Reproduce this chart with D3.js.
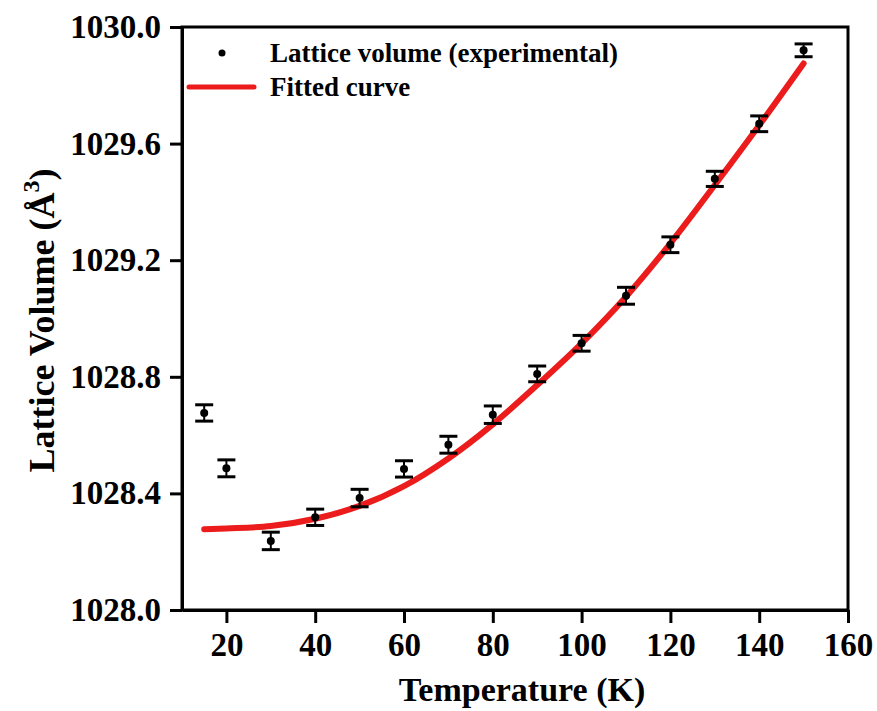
<!DOCTYPE html>
<html>
<head>
<meta charset="utf-8">
<script src="https://cdn.jsdelivr.net/npm/d3@7"></script>
<style>
  body { margin: 0; background: #fff; }
  text { font-family: "Liberation Serif", "Times New Roman", serif; font-weight: bold; }
</style>
</head>
<body>
<svg id="chart" width="877" height="711"></svg>
<script>
// measured points (K, A^3) with error bars
const temps = [15, 20, 30, 40, 50, 60, 70, 80, 90, 100, 110, 120, 130, 140, 150];
const volumes = [1028.676, 1028.486, 1028.237, 1028.318, 1028.384, 1028.484, 1028.567,
  1028.670, 1028.810, 1028.915, 1029.078, 1029.253, 1029.479, 1029.668, 1029.920];
const errors = [0.028, 0.029, 0.030, 0.028, 0.030, 0.028, 0.029, 0.030, 0.027, 0.027,
  0.029, 0.027, 0.026, 0.027, 0.022];

// fitted curve
const fitTemps = [15, 20, 30, 40, 50, 60, 70, 80, 90, 100, 110, 120, 130, 140, 150];
const fitVolumes = [1028.277, 1028.280, 1028.288, 1028.313, 1028.357, 1028.425, 1028.520,
  1028.637, 1028.772, 1028.915, 1029.075, 1029.258, 1029.458, 1029.663, 1029.875];

const xTicks = [20, 40, 60, 80, 100, 120, 140, 160];
const yTicks = [1028.0, 1028.4, 1028.8, 1029.2, 1029.6, 1030.0];

const margin = { top: 27, right: 29, bottom: 101, left: 182 };
const width = 877 - margin.left - margin.right;
const height = 711 - margin.top - margin.bottom;
const red = '#ec1c1c';

const svg = d3.select('#chart');
const g = svg.append('g')
  .attr('transform', `translate(${margin.left},${margin.top})`);

const x = d3.scaleLinear().domain([10, 160]).range([0, width]);
const y = d3.scaleLinear().domain([1028, 1030]).range([height, 0]);

// frame (top / right)
g.append('rect')
  .attr('x', 0).attr('y', 0)
  .attr('width', width).attr('height', height)
  .attr('fill', 'none')
  .attr('stroke', '#000')
  .attr('stroke-width', 3);

const xAxis = g.append('g')
  .attr('transform', `translate(0,${height})`)
  .call(d3.axisBottom(x).tickValues(xTicks).tickSize(13).tickSizeOuter(0));
xAxis.selectAll('text')
  .attr('y', 23)
  .attr('font-size', '33px')
  .attr('fill', '#000');

const yAxis = g.append('g')
  .call(d3.axisLeft(y).tickValues(yTicks).tickSize(12).tickSizeOuter(0)
    .tickFormat(d3.format('.1f')));
yAxis.selectAll('text')
  .attr('x', -21)
  .attr('font-size', '33px')
  .attr('fill', '#000');

svg.selectAll('.domain').attr('stroke-width', 3).attr('stroke', '#000');
svg.selectAll('.tick line').attr('stroke-width', 3).attr('stroke', '#000');
svg.selectAll('.tick text').attr('font-family', '"Liberation Serif", serif');

// fitted curve
const line = d3.line()
  .x((d, i) => x(fitTemps[i]))
  .y(d => y(d))
  .curve(d3.curveCatmullRom);

g.append('path')
  .datum(fitVolumes)
  .attr('d', line)
  .attr('fill', 'none')
  .attr('stroke', red)
  .attr('stroke-width', 6)
  .attr('stroke-linecap', 'round');

// error bars
const pts = temps.map((t, i) => ({ t, v: volumes[i], e: errors[i] }));
const eb = g.append('g').attr('stroke', '#000');
eb.selectAll('line.stem')
  .data(pts)
  .enter().append('line')
  .attr('class', 'stem')
  .attr('x1', d => x(d.t)).attr('x2', d => x(d.t))
  .attr('y1', d => y(d.v - d.e)).attr('y2', d => y(d.v + d.e))
  .attr('stroke-width', 2);
['lo', 'hi'].forEach((k) => {
  eb.selectAll(`line.cap-${k}`)
    .data(pts)
    .enter().append('line')
    .attr('class', `cap-${k}`)
    .attr('x1', d => x(d.t) - 9).attr('x2', d => x(d.t) + 9)
    .attr('y1', d => y(k === 'lo' ? d.v - d.e : d.v + d.e))
    .attr('y2', d => y(k === 'lo' ? d.v - d.e : d.v + d.e))
    .attr('stroke-width', 3);
});

g.selectAll('circle.pt')
  .data(pts)
  .enter().append('circle')
  .attr('class', 'pt')
  .attr('cx', d => x(d.t))
  .attr('cy', d => y(d.v))
  .attr('r', 4)
  .attr('fill', '#000');

// legend
svg.append('circle')
  .attr('cx', 222).attr('cy', 53).attr('r', 3.5).attr('fill', '#000');
svg.append('text')
  .attr('x', 270).attr('y', 62)
  .attr('font-size', '27px')
  .text('Lattice volume (experimental)');
svg.append('line')
  .attr('x1', 189).attr('x2', 254)
  .attr('y1', 87).attr('y2', 87)
  .attr('stroke', red).attr('stroke-width', 5)
  .attr('stroke-linecap', 'round');
svg.append('text')
  .attr('x', 270).attr('y', 96)
  .attr('font-size', '27px')
  .text('Fitted curve');

// axis titles
svg.append('text')
  .attr('x', margin.left + width / 2 + 7)
  .attr('y', 701)
  .attr('text-anchor', 'middle')
  .attr('font-size', '34px')
  .text('Temperature (K)');

const yt = svg.append('text')
  .attr('transform', `translate(54,${margin.top + height / 2 + 2}) rotate(-90)`)
  .attr('text-anchor', 'middle')
  .attr('font-size', '36px');
yt.append('tspan').text('Lattice Volume (Å');
yt.append('tspan').attr('font-size', '24px').attr('dy', -15).text('3');
yt.append('tspan').attr('dy', 15).text(')');
</script>
</body>
</html>
